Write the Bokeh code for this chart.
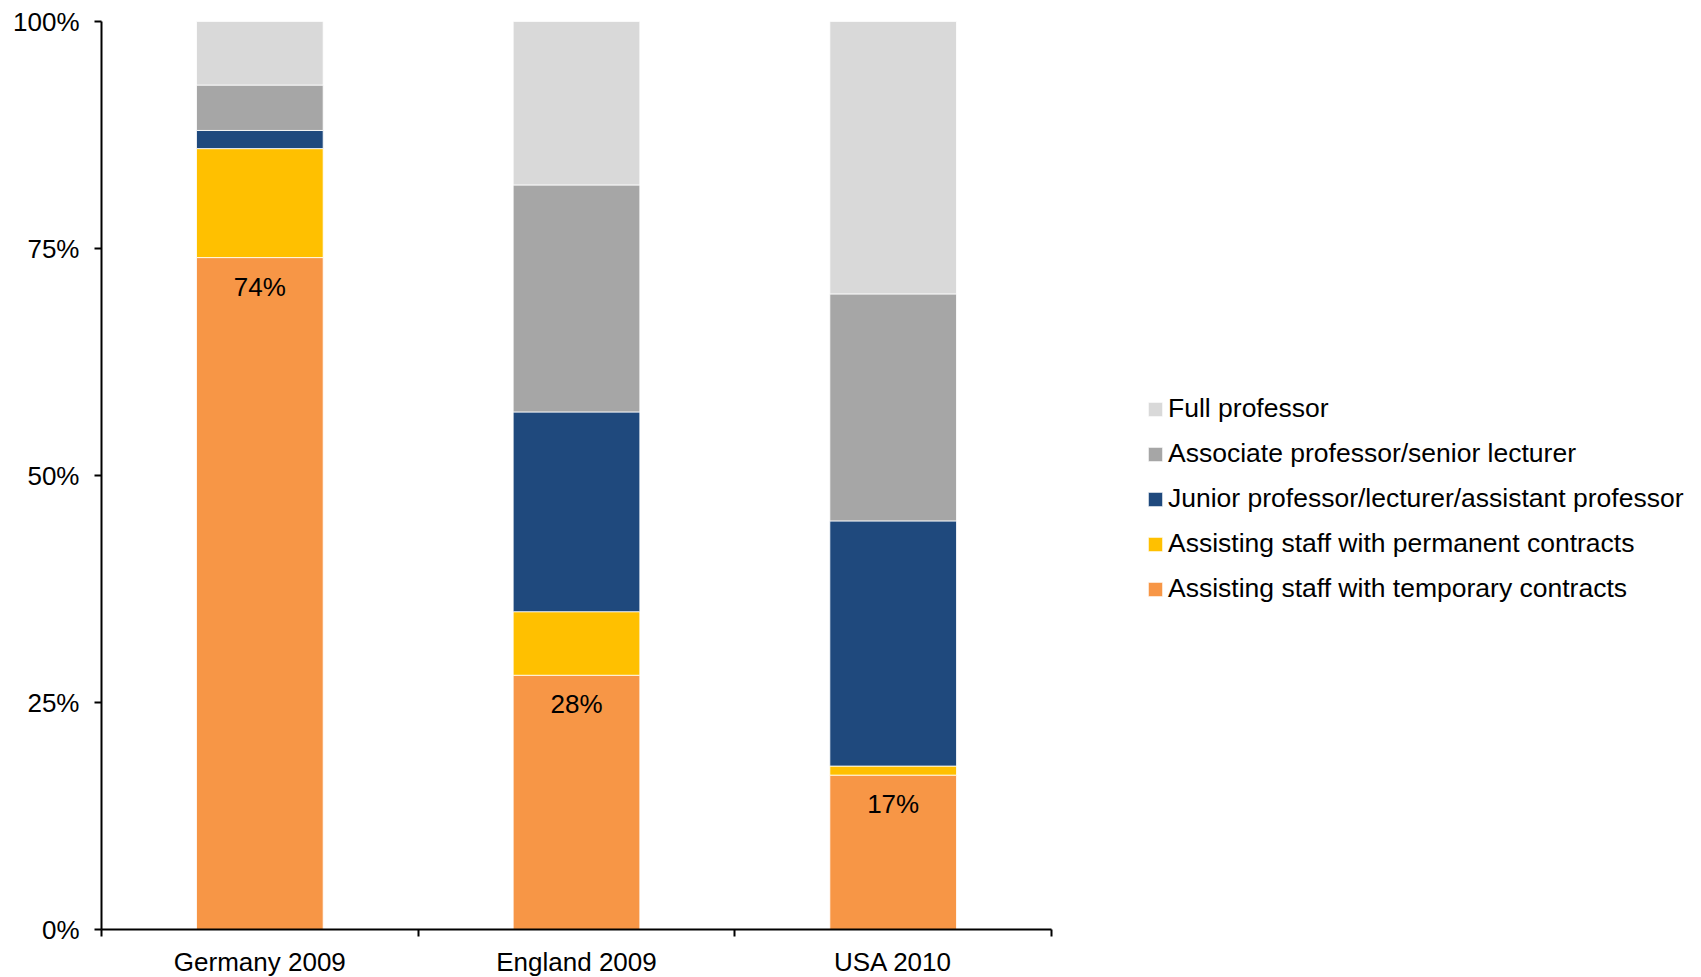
from bokeh.plotting import figure
from bokeh.models import (ColumnDataSource, FixedTicker, Legend, LegendItem, Range1d)
from bokeh.core.properties import value
from bokeh.embed import file_html
from bokeh.resources import INLINE

categories = ["Germany 2009", "England 2009", "USA 2010"]
series = ["Assisting staff with temporary contracts",
          "Assisting staff with permanent contracts",
          "Junior professor/lecturer/assistant professor",
          "Associate professor/senior lecturer",
          "Full professor"]
temp = [0.74, 0.28, 0.17]
perm = [0.12, 0.07, 0.01]
junior = [0.02, 0.22, 0.27]
assoc = [0.05, 0.25, 0.25]
full = [0.07, 0.18, 0.30]
label_texts = ["74%", "28%", "17%"]
y_ticks = [0, 0.25, 0.5, 0.75, 1.0]
y_tick_labels = ["0%", "25%", "50%", "75%", "100%"]
colors = ["#F79646", "#FFC000", "#1F497D", "#A6A6A6", "#D9D9D9"]

FONT = "Liberation Sans"
FS = "26px"
xpos = [i + 0.5 for i in range(len(categories))]
keys = ["temp", "perm", "junior", "assoc", "full"]
src = ColumnDataSource(dict(x=xpos, temp=temp, perm=perm, junior=junior,
                            assoc=assoc, full=full, lab=label_texts))

p = figure(frame_width=950, frame_height=908, output_backend="svg", toolbar_location=None,
           x_range=Range1d(0, 3), y_range=Range1d(0, 1),
           min_border_left=101, min_border_right=0, min_border_top=21,
           min_border_bottom=0)
p.outline_line_color = None
p.grid.grid_line_color = None
p.background_fill_color = "white"

renderers = p.vbar_stack(keys, x="x", width=0.4, source=src, color=colors,
                         line_color="white", line_width=0.8)

p.text(x="x", y="temp", text="lab", source=src, text_align="center",
       text_baseline="middle", y_offset=29, text_font=value(FONT),
       text_font_size=FS, text_color="black")

# axes
p.yaxis.ticker = FixedTicker(ticks=y_ticks)
p.yaxis.major_label_overrides = {t: l for t, l in zip(y_ticks, y_tick_labels)}
p.yaxis.minor_tick_line_color = None
p.yaxis.major_tick_out = 7
p.yaxis.major_tick_in = 0
p.yaxis.major_label_standoff = 15

p.xaxis.ticker = FixedTicker(ticks=xpos, minor_ticks=[0, 1, 2, 3])
p.xaxis.major_label_overrides = {x: c for x, c in zip(xpos, categories)}
p.xaxis.major_tick_out = 0
p.xaxis.major_tick_in = 0
p.xaxis.minor_tick_out = 7
p.xaxis.minor_tick_in = 0
p.xaxis.major_label_standoff = 10

for ax in (p.xaxis, p.yaxis):
    ax.axis_line_width = 2
    ax.axis_line_color = "black"
    ax.major_tick_line_width = 2
    ax.minor_tick_line_width = 2
    ax.major_label_text_font = FONT
    ax.major_label_text_font_size = FS
    ax.major_label_text_color = "black"

items = [LegendItem(label=series[i], renderers=[renderers[i]]) for i in reversed(range(5))]
legend = Legend(items=items, location=(95, 325), orientation="vertical",
                label_text_font=FONT, label_text_font_size="26.5px",
                label_text_color="black", glyph_width=18, glyph_height=18,
                label_height=26, spacing=14, label_standoff=4,
                border_line_color=None, background_fill_alpha=0,
                padding=0, margin=0)
p.add_layout(legend, "right")

open("out.html", "w").write(file_html(p, INLINE))
